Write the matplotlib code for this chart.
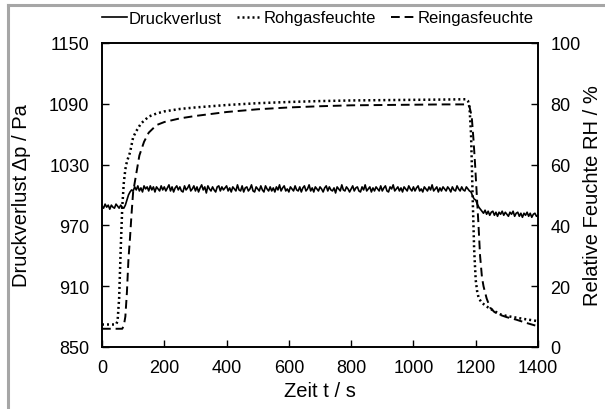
import matplotlib
matplotlib.use('Agg')
import matplotlib.pyplot as plt
from matplotlib.lines import Line2D
import numpy as np

plt.rcParams['font.family'] = ['Liberation Sans', 'DejaVu Sans']

# Druckverlust, one value every 5 s (0 ... 1400 s)
t_druck = np.arange(0, 1401, 5)
druck = [
    989, 987, 991, 988, 990, 986, 990, 988, 987, 991, 989, 987, 990, 988, 987, 990, 995, 1000, 1003, 1005,
    1004, 1008, 1005, 1009, 1004, 1007, 1003, 1009, 1006, 1008, 1004, 1009, 1005, 1008, 1003, 1008, 1006, 1004, 1009, 1005,
    1008, 1004, 1007, 1010, 1004, 1008, 1003, 1007, 1009, 1005, 1008, 1004, 1003, 1009, 1005, 1007, 1010, 1004, 1006, 1009,
    1004, 1008, 1003, 1007, 1010, 1005, 1008, 1002, 1009, 1006, 1004, 1008, 1005, 1003, 1008, 1009, 1004, 1008, 1005, 1007,
    1009, 1004, 1007, 1003, 1008, 1006, 1004, 1010, 1005, 1004, 1009, 1003, 1007, 1008, 1004, 1006, 1010, 1004, 1003, 1008,
    1006, 1004, 1009, 1005, 1003, 1009, 1006, 1004, 1008, 1004, 1007, 1003, 1008, 1005, 1010, 1004, 1007, 1009, 1004, 1006,
    1003, 1008, 1006, 1004, 1009, 1005, 1004, 1008, 1003, 1007, 1009, 1004, 1006, 1010, 1004, 1007, 1003, 1008, 1006, 1004,
    1008, 1006, 1003, 1007, 1009, 1004, 1008, 1005, 1004, 1007, 1002, 1008, 1006, 1004, 1010, 1005, 1004, 1008, 1006, 1003,
    1006, 1009, 1004, 1007, 1008, 1004, 1003, 1008, 1005, 1010, 1004, 1006, 1008, 1003, 1007, 1004, 1008, 1006, 1004, 1009,
    1004, 1007, 1009, 1004, 1003, 1008, 1006, 1010, 1004, 1006, 1008, 1004, 1007, 1003, 1008, 1006, 1004, 1009, 1006, 1004,
    1008, 1004, 1007, 1009, 1004, 1006, 1003, 1008, 1006, 1004, 1008, 1005, 1010, 1004, 1006, 1008, 1003, 1007, 1004, 1008,
    1006, 1004, 1008, 1006, 1003, 1008, 1005, 1004, 1009, 1006, 1004, 1008, 1005, 1004, 1008, 1006, 1004, 1003, 999, 996,
    995, 991, 988, 986, 984, 982, 985, 981, 984, 980, 983, 984, 980, 983, 979, 983, 981, 984, 980, 983,
    981, 979, 983, 981, 984, 979, 982, 983, 979, 982, 978, 982, 980, 983, 979, 982, 978, 981, 982, 979,
    980,
]

# Rohgasfeuchte (dotted)
t_roh = [0, 45, 50, 55, 60, 65, 70, 75, 80, 90, 100, 110, 125, 150, 175, 200, 250, 300, 400, 500,
         600, 700, 800, 900, 1000, 1100, 1170, 1175, 1180, 1185, 1190, 1195, 1200, 1205, 1210, 1220,
         1240, 1260, 1280, 1300, 1350, 1400]
roh = [7.4, 7.4, 8.5, 16, 32, 46, 54, 58.5, 61, 64, 69, 71, 73.5, 75.8, 76.8, 77.5, 78.3, 78.8, 79.6, 80.2,
       80.6, 80.9, 81.1, 81.2, 81.3, 81.4, 81.5, 81, 79, 70, 50, 32, 22, 18, 16, 14.5,
       13, 11.8, 10.7, 10.2, 9.3, 8.5]

# Reingasfeuchte (dashed)
t_rein = [0, 65, 70, 75, 80, 85, 90, 95, 100, 110, 120, 135, 150, 175, 200, 250, 300, 400, 500, 600,
          700, 800, 900, 1000, 1100, 1175, 1180, 1187, 1193, 1198, 1204, 1209, 1214, 1220, 1225, 1235,
          1246, 1260, 1280, 1300, 1330, 1360, 1400]
rein = [6.0, 6.0, 7, 10, 18, 29, 36, 44, 51, 57, 63, 67.5, 70.5, 73, 74, 75.2, 76, 77.3, 78.2, 78.8,
        79.2, 79.5, 79.6, 79.7, 79.8, 79.8, 79, 76, 68, 60, 49, 40, 30, 23, 20, 16,
        13, 11.5, 10.5, 9.8, 9, 8, 6.8]

fig = plt.figure(figsize=(6.05, 4.1), dpi=100)
ax = fig.add_axes([102/605, 1-348/410, 436/605, 304/410])
ax2 = ax.twinx()

l1, = ax.plot(t_druck, druck, color='black', lw=1.2, label='Druckverlust')
l2, = ax2.plot(t_roh, roh, color='black', lw=1.8, linestyle=(0, (0.8, 1.2)), label='Rohgasfeuchte')
l3, = ax2.plot(t_rein, rein, color='black', lw=1.4, linestyle=(0, (4.5, 2.5)), label='Reingasfeuchte')

ax.set_xlim(0, 1400)
ax.set_ylim(850, 1150)
ax2.set_ylim(0, 100)
ax.set_xticks(range(0, 1401, 200))
ax.set_yticks(range(850, 1151, 60))
ax2.set_yticks(range(0, 101, 20))

for a in (ax, ax2):
    for s in a.spines.values():
        s.set_linewidth(1.2)
ax.tick_params(axis='y', direction='in', length=5, width=1, pad=9, labelsize=13, right=False)
ax.tick_params(axis='x', direction='in', length=5, width=1, pad=9, labelsize=13, top=False)
ax2.tick_params(direction='in', length=5, width=1, pad=9, labelsize=13)

ax.set_xlabel('Zeit t / s', fontsize=14.5)
ax.set_ylabel('Druckverlust \u0394p / Pa', fontsize=14.5)
ax2.set_ylabel('Relative Feuchte RH / %', fontsize=14.5)
ax.xaxis.set_label_coords(0.5, -(382-348)/304)
ax.yaxis.set_label_coords((31-102)/436, 0.5)
ax2.yaxis.set_label_coords((583-102)/436, 0.5)

fig.legend(handles=[l1, l2, l3], loc='center', bbox_to_anchor=(0.525, 1-19/410), ncol=3,
           frameon=False, handlelength=1.5, handletextpad=0.1, columnspacing=0.9, fontsize=12)

# grey frame (top and left edge)
fig.add_artist(Line2D([7.5/605, 1], [1-5.5/410, 1-5.5/410], transform=fig.transFigure, color='#a6a6a6', lw=2.2))
fig.add_artist(Line2D([7.5/605, 7.5/605], [0, 1-5.5/410], transform=fig.transFigure, color='#a6a6a6', lw=2.2))

fig.savefig('out.png', dpi=100)
